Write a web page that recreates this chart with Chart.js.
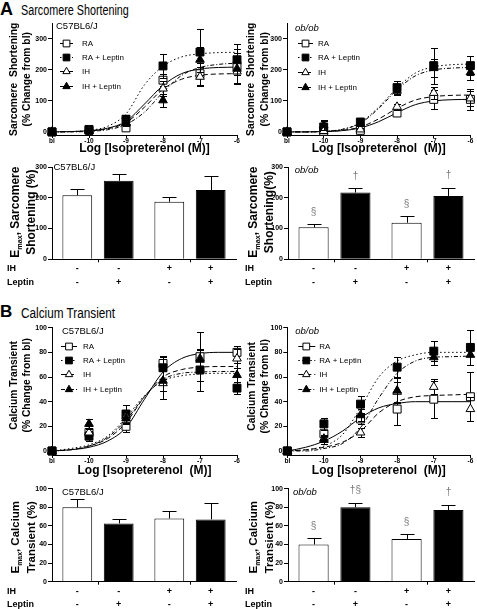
<!DOCTYPE html>
<html><head><meta charset="utf-8">
<script src="https://cdn.jsdelivr.net/npm/chart.js@4.4.0/dist/chart.umd.min.js"></script>
<style>
html,body{margin:0;padding:0;background:#fff;}
body{width:477px;height:609px;position:relative;overflow:hidden;font-family:"Liberation Sans",Arial,sans-serif;color:#000;}
canvas{position:absolute;}
.hd{position:absolute;white-space:nowrap;}
</style></head><body>
<div class="hd" style="left:0;top:0;font:bold 18px/18px 'Liberation Sans',Arial,sans-serif">A</div>
<div class="hd" style="left:21px;top:3px;font:14px/14px 'Liberation Sans',Arial,sans-serif;transform:scaleX(0.77);transform-origin:0 0">Sarcomere Shortening</div>
<div class="hd" style="left:0;top:303px;font:bold 17px/17px 'Liberation Sans',Arial,sans-serif">B</div>
<div class="hd" style="left:21px;top:306px;font:14px/14px 'Liberation Sans',Arial,sans-serif;transform:scaleX(0.84);transform-origin:0 0">Calcium Transient</div>
<canvas id="a1" width="245" height="145" style="left:0;top:15px"></canvas>
<canvas id="a2" width="239" height="145" style="left:238px;top:15px"></canvas>
<canvas id="a3" width="245" height="130" style="left:0;top:160px"></canvas>
<canvas id="a4" width="239" height="130" style="left:238px;top:160px"></canvas>
<canvas id="b1" width="245" height="165" style="left:0;top:315px"></canvas>
<canvas id="b2" width="239" height="165" style="left:238px;top:315px"></canvas>
<canvas id="b3" width="245" height="129" style="left:0;top:480px"></canvas>
<canvas id="b4" width="239" height="129" style="left:238px;top:480px"></canvas>
<script>
// ---------------- DATA ----------------
const groupNames = ['RA', 'RA + Leptin', 'IH', 'IH + Leptin'];
const doseX = [-11, -10, -9, -8, -7, -6];          // log[Iso]; baseline (bl) sits at -11
const doseTickLabels = ['bl', '-10', '-9', '-8', '-7', '-6'];
const curveX = [-11, -10.5, -10, -9.5, -9, -8.5, -8, -7.5, -7, -6.5, -6];

// A: sarcomere shortening, C57BL6/J  (rows: RA, RA+Leptin, IH, IH+Leptin)
const sarcC57Mean = [[0, 5, 13, 167, 188, 213], [0, 8, 41, 213, 258, 233], [0, 5, 30, 140, 178, 195], [0, 3, 28, 102, 233, 204]];
const sarcC57Err  = [[0, 12, 8, 20, 35, 55], [0, 10, 12, 40, 75, 50], [0, 10, 10, 25, 30, 40], [0, 8, 10, 20, 40, 50]];
const sarcC57Fit  = [[0, 1, 4, 12, 34, 90, 150, 188, 203, 208, 209], [0, 1, 5, 18, 58, 152, 212, 242, 252, 256, 257],
                     [0, 1, 3, 10, 30, 80, 138, 170, 183, 187, 188], [0, 0, 2, 7, 24, 64, 128, 182, 208, 218, 222]];
// A: sarcomere shortening, ob/ob
const sarcObMean = [[0, 2, 5, 61, 105, 105], [0, 16, 32, 143, 214, 214], [0, 3, 8, 81, 126, 108], [0, 22, 27, 133, 206, 192]];
const sarcObErr  = [[0, 5, 5, 10, 30, 35], [0, 20, 12, 22, 58, 30], [0, 5, 5, 10, 20, 25], [0, 15, 8, 15, 30, 25]];
const sarcObFit  = [[0, 0, 1, 4, 13, 33, 62, 88, 100, 104, 105], [0, 0, 2, 8, 30, 80, 142, 190, 210, 217, 219],
                    [0, 0, 1, 5, 16, 42, 76, 103, 114, 118, 119], [0, 0, 2, 8, 28, 76, 136, 181, 200, 206, 208]];
// B: calcium transient, C57BL6/J
const calcC57Mean = [[0, 15, 20, 71, 76.5, 80], [0, 12, 30, 67.5, 65.7, 51], [0, 15, 28, 55, 75, 75], [0, 22, 26.5, 57, 74, 61.6]];
const calcC57Err  = [[0, 4, 5, 6, 20, 5], [0, 4, 7, 9, 17, 5], [0, 5, 5, 13, 8, 8], [0, 4, 5, 8, 8, 10]];
const calcC57Fit  = [[0, 1, 3, 8, 19, 42, 64, 75, 79, 80, 80], [0, 2, 5, 12, 27, 45, 57, 61, 62.5, 63, 63],
                     [0, 1, 4, 10, 23, 44, 60, 66, 68, 68.5, 68.5], [0, 1, 4, 11, 25, 44, 58, 63, 64, 64.5, 64.5]];
// B: calcium transient, ob/ob
const calcObMean = [[0, 14, 26, 34, 42, 44], [0, 22, 38, 68, 81, 84], [0, 10, 15, 48, 52, 34], [0, 9, 29, 49, 76, 78]];
const calcObErr  = [[0, 3, 4, 13, 15, 20], [0, 5, 7, 8, 8, 14], [0, 3, 4, 8, 6, 10], [0, 3, 5, 10, 6, 8]];
const calcObFit  = [[0, 3, 8, 16, 27, 35, 38.5, 40, 40, 40, 40], [0, 1, 4, 13, 35, 60, 73, 78, 80, 80, 80],
                    [0, 1, 3, 7, 16, 31, 40, 44, 45, 45.5, 46], [0, 0, 2, 6, 19, 43, 63, 73, 76, 76.5, 77]];

// Emax bars (order: RA, RA+Leptin, IH, IH+Leptin)
const sarcC57Emax = [208, 255, 187, 225];  const sarcC57EmaxErr = [20, 21, 16, 45];
const sarcObEmax  = [104, 217, 119, 206];  const sarcObEmaxErr  = [10, 15, 21, 27];
const calcC57Emax = [80, 62.7, 68, 67];    const calcC57EmaxErr = [8.5, 4.5, 8.5, 18];
const calcObEmax  = [40, 80, 46, 77];      const calcObEmaxErr  = [7, 5, 5.5, 6];
const sarcObMarks = ['§', '†', '§', '†'];
const calcObMarks = ['§', '†§', '§', '†'];
const rowLabels = ['IH', 'Leptin'];
const ihSigns = ['-', '-', '+', '+'];
const leptinSigns = ['-', '+', '-', '+'];
const sarcTicks = [0, 100, 200, 300];
const calcTicks = [0, 20, 40, 60, 80, 100];

// ---------------- STYLE / PLUGINS ----------------
const FF = "'Liberation Sans', Arial, sans-serif";
Chart.defaults.font.family = FF;
Chart.defaults.color = '#000';
const styles = [
  {dash: [], point: 'rect', fill: '#fff', r: 5.6},
  {dash: [1.5, 2.5], point: 'rect', fill: '#000', r: 5.6},
  {dash: [5, 3], point: 'triangle', fill: '#fff', r: 5},
  {dash: [4, 2, 1, 2], point: 'triangle', fill: '#000', r: 5}
];

function drawMarker(ctx, st, x, y, k) {
  ctx.save(); ctx.setLineDash([]); ctx.lineWidth = 1; ctx.strokeStyle = '#000'; ctx.fillStyle = st.fill;
  ctx.beginPath();
  const r = st.r * k;
  if (st.point === 'rect') { const h = r * Math.SQRT1_2; ctx.rect(x - h, y - h, 2 * h, 2 * h); }
  else { ctx.moveTo(x, y - r); ctx.lineTo(x + r * 0.866, y + r * 0.5); ctx.lineTo(x - r * 0.866, y + r * 0.5); ctx.closePath(); }
  ctx.fill(); ctx.stroke(); ctx.restore();
}

function drawErr(chart, idx) {
  const ds = chart.data.datasets[idx];
  if (!ds.errors) return;
  const meta = chart.getDatasetMeta(idx), ys = chart.scales.y, ctx = chart.ctx;
  ctx.save(); ctx.strokeStyle = '#000'; ctx.lineWidth = 1; ctx.setLineDash([]);
  meta.data.forEach((el, i) => {
    const e = ds.errors[i]; if (!e) return;
    const v = ds.data[i]; const val = (typeof v === 'object') ? v.y : v;
    const x = Math.round(el.x) + 0.5;
    const yTop = Math.round(ys.getPixelForValue(val + e)) + 0.5;
    const yBot = ds.upOnly ? el.y : Math.round(ys.getPixelForValue(val - e)) + 0.5;
    const cap = ds.cap;
    ctx.beginPath();
    ctx.moveTo(x, yBot); ctx.lineTo(x, yTop);
    ctx.moveTo(x - cap, yTop); ctx.lineTo(x + cap, yTop);
    if (!ds.upOnly) { ctx.moveTo(x - cap, yBot); ctx.lineTo(x + cap, yBot); }
    ctx.stroke();
  });
  ctx.restore();
}
const errPlugin = {
  id: 'errbars',
  beforeDatasetDraw(chart, args) { if (!chart.data.datasets[args.index].upOnly) drawErr(chart, args.index); },
  afterDatasetDraw(chart, args) { if (chart.data.datasets[args.index].upOnly) drawErr(chart, args.index); }
};

const legendPlugin = {
  id: 'doseLegend',
  afterDraw(chart) {
    const o = chart.options.plugins.doseLegend; if (!o) return;
    const ctx = chart.ctx, ca = chart.chartArea;
    ctx.save(); ctx.fillStyle = '#000'; ctx.textBaseline = 'middle'; ctx.textAlign = 'left';
    ctx.font = (o.italic ? 'italic ' : '') + '9.5px ' + FF;
    ctx.fillText(o.title, ca.left + o.tx, ca.top + o.ty);
    ctx.font = '8px ' + FF;
    groupNames.forEach((name, i) => {
      const y = Math.round(ca.top + o.rows[i]) + 0.5;
      ctx.save(); ctx.strokeStyle = '#000'; ctx.lineWidth = 1; ctx.setLineDash(styles[i].dash);
      ctx.beginPath(); ctx.moveTo(ca.left + o.l0, y); ctx.lineTo(ca.left + o.l1, y); ctx.stroke(); ctx.restore();
      drawMarker(ctx, styles[i], ca.left + o.m, y, 0.85);
      ctx.fillText(name, ca.left + o.lx, y);
    });
    ctx.restore();
  }
};

const ytitlePlugin = {
  id: 'ytitle',
  afterDraw(chart) {
    const o = chart.options.plugins.ytitle; if (!o) return;
    const ctx = chart.ctx, ca = chart.chartArea;
    const cy = (ca.top + ca.bottom) / 2 + (o.dy || 0);
    const fnt = s => `bold ${s.sub ? o.size * 0.6 : o.size}px ${FF}`;
    o.lines.forEach((segs, li) => {
      ctx.save(); ctx.translate(o.xs[li], cy); ctx.rotate(-Math.PI / 2);
      ctx.fillStyle = '#000'; ctx.textBaseline = 'middle'; ctx.textAlign = 'left';
      let w = 0; segs.forEach(s => { ctx.font = fnt(s); w += ctx.measureText(s.t).width; });
      let x = -w / 2;
      segs.forEach(s => { ctx.font = fnt(s); ctx.fillText(s.t, x, s.sub ? o.size * 0.35 : 0); x += ctx.measureText(s.t).width; });
      ctx.restore();
    });
  }
};

const barTextPlugin = {
  id: 'barText',
  afterDraw(chart) {
    const o = chart.options.plugins.barText; if (!o) return;
    const ctx = chart.ctx, ca = chart.chartArea, ys = chart.scales.y;
    const barEl = k => chart.getDatasetMeta(k % 2).data[Math.floor(k / 2)];
    ctx.save(); ctx.fillStyle = '#000'; ctx.textBaseline = 'middle';
    ctx.font = 'bold 9px ' + FF; ctx.textAlign = 'left';
    ctx.fillText(rowLabels[0], o.lx, ca.bottom + o.r1);
    ctx.fillText(rowLabels[1], o.lx, ca.bottom + o.r2);
    ctx.textAlign = 'center';
    for (let k = 0; k < 4; k++) {
      const el = barEl(k);
      ctx.fillText(ihSigns[k], el.x, ca.bottom + o.r1);
      ctx.fillText(leptinSigns[k], el.x, ca.bottom + o.r2);
    }
    ctx.textAlign = 'left';
    ctx.font = (o.italic ? 'italic ' : '') + '9.5px ' + FF;
    ctx.fillText(o.title, ca.left + o.tx, ca.top + o.ty);
    if (o.marks) {
      ctx.fillStyle = '#7a7a7a'; ctx.font = '10px ' + FF; ctx.textAlign = 'center';
      for (let k = 0; k < 4; k++) {
        const el = barEl(k);
        const y = ys.getPixelForValue(o.means[k] + o.errs[k]) - 12;
        ctx.fillText(o.marks[k], el.x, y);
      }
    }
    ctx.restore();
  }
};

function doseChart(id, o) {
  const datasets = [];
  for (let g = 0; g < 4; g++) {
    datasets.push({
      type: 'line', label: groupNames[g] + ' fit',
      data: curveX.map((x, i) => ({x, y: o.fit[g][i]})),
      borderColor: '#000', borderWidth: 1, borderDash: styles[g].dash,
      pointRadius: 0, cubicInterpolationMode: 'monotone', fill: false, clip: false, order: 10
    });
  }
  for (let g = 0; g < 4; g++) {
    datasets.push({
      type: 'scatter', label: groupNames[g],
      data: doseX.map((x, i) => ({x, y: o.mean[g][i]})),
      errors: o.err[g], cap: 3.5, showLine: false,
      pointStyle: styles[g].point, pointRadius: styles[g].r,
      pointBackgroundColor: styles[g].fill, pointBorderColor: '#000', pointBorderWidth: 1,
      clip: false, order: 4 - g
    });
  }
  new Chart(document.getElementById(id), {
    type: 'scatter',
    data: {datasets},
    options: {
      responsive: false, animation: false, events: [],
      layout: {padding: {left: 0, top: o.pt, right: o.pr, bottom: 0}},
      plugins: {legend: {display: false}, tooltip: {enabled: false}, doseLegend: o.legend, ytitle: o.ytitle},
      scales: {
        x: {
          type: 'linear', min: -11, max: -6,
          afterFit: s => { s.height = o.xh; s.paddingLeft = 0; s.paddingRight = 0; },
          afterBuildTicks: s => { s.ticks = doseX.map(v => ({value: v})); },
          ticks: {callback: v => doseTickLabels[doseX.indexOf(v)], font: {size: 6.5, weight: 'bold'}, padding: -1, maxRotation: 0, autoSkip: false},
          grid: {drawOnChartArea: false, drawTicks: true, tickLength: 3, color: '#000'},
          border: {color: '#000', width: 1},
          title: {display: true, text: o.xtitle, font: {size: 12, weight: 'bold'}, padding: {top: 0, bottom: o.xtb}}
        },
        y: {
          min: o.ymin, max: o.ymax,
          afterFit: s => { s.width = o.yw; s.paddingTop = 0; s.paddingBottom = 0; },
          afterBuildTicks: s => { s.ticks = o.yticks.map(v => ({value: v})); },
          ticks: {font: {size: 7, weight: 'bold'}, padding: 1},
          grid: {drawOnChartArea: false, drawTicks: true, tickLength: 4, color: '#000'},
          border: {color: '#000', width: 1}
        }
      }
    },
    plugins: [errPlugin, legendPlugin, ytitlePlugin]
  });
}

function barChart(id, o) {
  const mk = (k0, k1, fill, label) => ({
    label, data: [o.means[k0], o.means[k1]], errors: [o.errs[k0], o.errs[k1]], upOnly: true, cap: 7,
    backgroundColor: fill, borderColor: '#000', borderWidth: 1,
    categoryPercentage: 0.9, barPercentage: 0.72
  });
  new Chart(document.getElementById(id), {
    type: 'bar',
    data: {labels: ['IH -', 'IH +'], datasets: [mk(0, 2, '#fff', 'Leptin -'), mk(1, 3, '#000', 'Leptin +')]},
    options: {
      responsive: false, animation: false, events: [],
      layout: {padding: {left: 0, top: o.pt, right: o.pr, bottom: 0}},
      plugins: {legend: {display: false}, tooltip: {enabled: false}, ytitle: o.ytitle, barText: o.text},
      scales: {
        x: {
          type: 'category', offset: true,
          afterFit: s => { s.height = o.xh; s.paddingLeft = 0; s.paddingRight = 0; },
          ticks: {display: false},
          grid: {drawOnChartArea: false, drawTicks: true, tickLength: 3, color: '#000', offset: false},
          border: {color: '#000', width: 1}
        },
        y: {
          min: 0, max: o.ymax,
          afterFit: s => { s.width = o.yw; s.paddingTop = 0; s.paddingBottom = 0; },
          afterBuildTicks: s => { s.ticks = o.yticks.map(v => ({value: v})); },
          ticks: {font: {size: 7, weight: 'bold'}, padding: 1},
          grid: {drawOnChartArea: false, drawTicks: true, tickLength: 4, color: '#000'},
          border: {color: '#000', width: 1}
        }
      }
    },
    plugins: [errPlugin, ytitlePlugin, barTextPlugin]
  });
}

const sarcYTitle = [[{t: 'Sarcomere  Shortening'}], [{t: '(% Change from bl)'}]];
const calcYTitle = [[{t: 'Calcium Transient'}], [{t: '(% Change from bl)'}]];

doseChart('a1', {mean: sarcC57Mean, err: sarcC57Err, fit: sarcC57Fit, ymin: -10, ymax: 350, yticks: sarcTicks,
  pt: 8.5, pr: 8, xh: 25, yw: 52, xtb: 4, xtitle: 'Log [Isopreterenol (M)]',
  legend: {title: 'C57BL6/J', italic: false, tx: 4, ty: 2.5, rows: [19.2, 33.5, 47.8, 62.2], l0: 8, l1: 21, m: 14.5, lx: 30},
  ytitle: {lines: sarcYTitle, xs: [13.8, 26.7], size: 10.3, dy: 0}});
doseChart('a2', {mean: sarcObMean, err: sarcObErr, fit: sarcObFit, ymin: -10, ymax: 350, yticks: sarcTicks,
  pt: 8.5, pr: 3.7, xh: 25, yw: 49, xtb: 4, xtitle: 'Log [Isopreterenol  (M)]',
  legend: {title: 'ob/ob', italic: true, tx: 8, ty: 4.5, rows: [19.5, 33.8, 48.5, 63.5], l0: 11, l1: 26, m: 18.5, lx: 31},
  ytitle: {lines: sarcYTitle, xs: [13.5, 26.7], size: 10.3, dy: 0}});
doseChart('b1', {mean: calcC57Mean, err: calcC57Err, fit: calcC57Fit, ymin: -3.25, ymax: 100, yticks: calcTicks,
  pt: 12.7, pr: 8, xh: 25, yw: 52, xtb: 1.8, xtitle: 'Log [Isopreterenol  (M)]',
  legend: {title: 'C57BL6/J', italic: false, tx: 10, ty: 4, rows: [18, 32.3, 46.3, 61], l0: 9, l1: 25, m: 17, lx: 31},
  ytitle: {lines: calcYTitle, xs: [14.2, 27.5], size: 10.3, dy: -6}});
doseChart('b2', {mean: calcObMean, err: calcObErr, fit: calcObFit, ymin: -3.25, ymax: 100, yticks: calcTicks,
  pt: 12.7, pr: 3.7, xh: 25, yw: 49.3, xtb: 1.8, xtitle: 'Log [Isopreterenol  (M)]',
  legend: {title: 'ob/ob', italic: true, tx: 8, ty: 4, rows: [18, 32.3, 46.3, 61], l0: 11, l1: 28, m: 19, lx: 32},
  ytitle: {lines: calcYTitle, xs: [14.4, 27.5], size: 10.3, dy: -5}});

const sarcEmaxTitle = [[{t: 'E'}, {t: 'max', sub: true}, {t: ', Sarcomere'}], [{t: 'Shortening (%)'}]];
const sarcEmaxTitleOb = [[{t: 'E'}, {t: 'max', sub: true}, {t: ', Sarcomere'}], [{t: 'Shortening(%)'}]];
const calcEmaxTitle = [[{t: 'E'}, {t: 'max', sub: true}, {t: ', Calcium'}], [{t: 'Transient (%)'}]];

barChart('a3', {means: sarcC57Emax, errs: sarcC57EmaxErr, ymax: 300, yticks: sarcTicks, pt: 7, pr: 9, xh: 30.7, yw: 52,
  ytitle: {lines: sarcEmaxTitle, xs: [16, 31.5], size: 12, dy: -1},
  text: {title: 'C57BL6/J', italic: false, tx: 1.5, ty: 0.5, lx: 7, r1: 9, r2: 23.4}});
barChart('a4', {means: sarcObEmax, errs: sarcObEmaxErr, ymax: 300, yticks: sarcTicks, pt: 7, pr: 3, xh: 30.7, yw: 50,
  ytitle: {lines: sarcEmaxTitleOb, xs: [16, 31.5], size: 12, dy: -1},
  text: {title: 'ob/ob', italic: true, tx: 6.7, ty: 3.5, lx: 7, r1: 9, r2: 23.4, marks: sarcObMarks, means: sarcObEmax, errs: sarcObEmaxErr}});
barChart('b3', {means: calcC57Emax, errs: calcC57EmaxErr, ymax: 100, yticks: calcTicks, pt: 8.7, pr: 9, xh: 27.3, yw: 52,
  ytitle: {lines: calcEmaxTitle, xs: [16, 31.5], size: 11.5, dy: 2},
  text: {title: 'C57BL6/J', italic: false, tx: 10, ty: 4, lx: 7, r1: 10, r2: 22.6}});
barChart('b4', {means: calcObEmax, errs: calcObEmaxErr, ymax: 100, yticks: calcTicks, pt: 8.7, pr: 3, xh: 27.3, yw: 50,
  ytitle: {lines: calcEmaxTitle, xs: [16, 31.5], size: 11.5, dy: 2},
  text: {title: 'ob/ob', italic: true, tx: 5, ty: 4, lx: 7, r1: 10, r2: 22.6, marks: calcObMarks, means: calcObEmax, errs: calcObEmaxErr}});
</script>
</body></html>
